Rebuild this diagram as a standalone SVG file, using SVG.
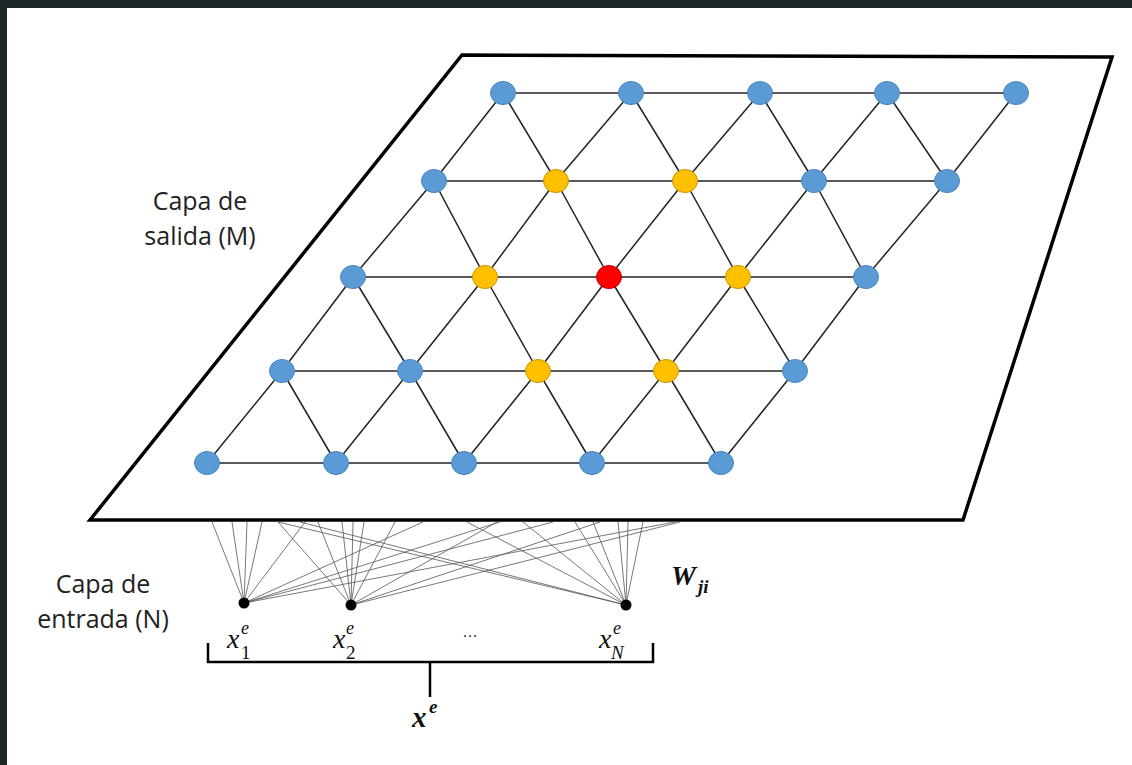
<svg xmlns="http://www.w3.org/2000/svg" width="1132" height="765" viewBox="0 0 1132 765">
<style>
.plane{fill:#fff;stroke:#000;stroke-width:3.5;stroke-linejoin:miter}
.grid line{stroke:#222;stroke-width:1.5}
.wire line{stroke:#555;stroke-width:0.8}
.blue{fill:#5b9bd5;stroke:#4a86bf;stroke-width:1}
.yel{fill:#ffc000;stroke:#c89600;stroke-width:1}
.red{fill:#ff0000;stroke:#c00000;stroke-width:1}
.in{fill:#000}
.lbl{font-family:"Open Sans","Liberation Sans",sans-serif;font-size:25px;fill:#222;text-anchor:middle}
.m{font-family:"Liberation Serif",serif;font-style:italic;fill:#111}
.up{font-family:"Liberation Serif",serif;font-style:normal;fill:#111}
.brace{fill:none;stroke:#000;stroke-width:2.5}
</style>
<rect x="0" y="0" width="1132" height="765" fill="#fff"/>
<rect x="0" y="0" width="1132" height="8" fill="#1f2629"/>
<rect x="0" y="0" width="7" height="765" fill="#1f2629"/>
<polygon class="plane" points="462,55 1112,57 963,520 90,520"/>
<g id="connectors">
<g class="grid">
<line x1="503" y1="93" x2="1016" y2="93"/>
<line x1="434" y1="181" x2="947" y2="181"/>
<line x1="353" y1="277" x2="866" y2="277"/>
<line x1="282" y1="371" x2="795" y2="371"/>
<line x1="207" y1="463" x2="721" y2="463"/>
<line x1="434" y1="181" x2="503" y2="93"/>
<line x1="556" y1="181" x2="503" y2="93"/><line x1="556" y1="181" x2="631" y2="93"/>
<line x1="685" y1="181" x2="631" y2="93"/><line x1="685" y1="181" x2="760" y2="93"/>
<line x1="814" y1="181" x2="760" y2="93"/><line x1="814" y1="181" x2="887" y2="93"/>
<line x1="947" y1="181" x2="887" y2="93"/><line x1="947" y1="181" x2="1016" y2="93"/>
<line x1="353" y1="277" x2="434" y2="181"/>
<line x1="485" y1="277" x2="434" y2="181"/><line x1="485" y1="277" x2="556" y2="181"/>
<line x1="609" y1="277" x2="556" y2="181"/><line x1="609" y1="277" x2="685" y2="181"/>
<line x1="738" y1="277" x2="685" y2="181"/><line x1="738" y1="277" x2="814" y2="181"/>
<line x1="866" y1="277" x2="814" y2="181"/><line x1="866" y1="277" x2="947" y2="181"/>
<line x1="282" y1="371" x2="353" y2="277"/>
<line x1="410" y1="371" x2="353" y2="277"/><line x1="410" y1="371" x2="485" y2="277"/>
<line x1="538" y1="371" x2="485" y2="277"/><line x1="538" y1="371" x2="609" y2="277"/>
<line x1="666" y1="371" x2="609" y2="277"/><line x1="666" y1="371" x2="738" y2="277"/>
<line x1="795" y1="371" x2="738" y2="277"/><line x1="795" y1="371" x2="866" y2="277"/>
<line x1="207" y1="463" x2="282" y2="371"/>
<line x1="336" y1="463" x2="282" y2="371"/><line x1="336" y1="463" x2="410" y2="371"/>
<line x1="464" y1="463" x2="410" y2="371"/><line x1="464" y1="463" x2="538" y2="371"/>
<line x1="592" y1="463" x2="538" y2="371"/><line x1="592" y1="463" x2="666" y2="371"/>
<line x1="721" y1="463" x2="666" y2="371"/><line x1="721" y1="463" x2="795" y2="371"/>
</g>
<g class="wire">
<line x1="244" y1="603" x2="212" y2="522"/>
<line x1="244" y1="603" x2="232" y2="522"/>
<line x1="244" y1="603" x2="247" y2="522"/>
<line x1="244" y1="603" x2="262" y2="522"/>
<line x1="244" y1="603" x2="305" y2="522"/>
<line x1="244" y1="603" x2="423" y2="522"/>
<line x1="244" y1="603" x2="500" y2="522"/>
<line x1="244" y1="603" x2="553" y2="522"/>
<line x1="244" y1="603" x2="675" y2="522"/>
<line x1="351" y1="605" x2="278" y2="522"/>
<line x1="351" y1="605" x2="318" y2="522"/>
<line x1="351" y1="605" x2="342" y2="522"/>
<line x1="351" y1="605" x2="353" y2="522"/>
<line x1="351" y1="605" x2="364" y2="522"/>
<line x1="351" y1="605" x2="395" y2="522"/>
<line x1="351" y1="605" x2="497" y2="522"/>
<line x1="351" y1="605" x2="600" y2="522"/>
<line x1="351" y1="605" x2="680" y2="522"/>
<line x1="626" y1="605" x2="278" y2="522"/>
<line x1="626" y1="605" x2="300" y2="522"/>
<line x1="626" y1="605" x2="467" y2="522"/>
<line x1="626" y1="605" x2="523" y2="522"/>
<line x1="626" y1="605" x2="575" y2="522"/>
<line x1="626" y1="605" x2="593" y2="522"/>
<line x1="626" y1="605" x2="618" y2="522"/>
<line x1="626" y1="605" x2="628" y2="522"/>
<line x1="626" y1="605" x2="643" y2="522"/>
</g>
</g>
<g id="out-r1">
<ellipse id="n-1-1" class="blue" cx="503" cy="93" rx="12.5" ry="11.5"/>
<ellipse id="n-1-2" class="blue" cx="631" cy="93" rx="12.5" ry="11.5"/>
<ellipse id="n-1-3" class="blue" cx="760" cy="93" rx="12.5" ry="11.5"/>
<ellipse id="n-1-4" class="blue" cx="887" cy="93" rx="12.5" ry="11.5"/>
<ellipse id="n-1-5" class="blue" cx="1016" cy="93" rx="12.5" ry="11.5"/>
</g>
<g id="out-r2">
<ellipse id="n-2-1" class="blue" cx="434" cy="181" rx="12.5" ry="11.5"/>
<ellipse id="n-2-2" class="yel" cx="556" cy="181" rx="12.5" ry="11.5"/>
<ellipse id="n-2-3" class="yel" cx="685" cy="181" rx="12.5" ry="11.5"/>
<ellipse id="n-2-4" class="blue" cx="814" cy="181" rx="12.5" ry="11.5"/>
<ellipse id="n-2-5" class="blue" cx="947" cy="181" rx="12.5" ry="11.5"/>
</g>
<g id="out-r3">
<ellipse id="n-3-1" class="blue" cx="353" cy="277" rx="12.5" ry="11.5"/>
<ellipse id="n-3-2" class="yel" cx="485" cy="277" rx="12.5" ry="11.5"/>
<ellipse id="n-3-3" class="red" cx="609" cy="277" rx="12.5" ry="11.5"/>
<ellipse id="n-3-4" class="yel" cx="738" cy="277" rx="12.5" ry="11.5"/>
<ellipse id="n-3-5" class="blue" cx="866" cy="277" rx="12.5" ry="11.5"/>
</g>
<g id="out-r4">
<ellipse id="n-4-1" class="blue" cx="282" cy="371" rx="12.5" ry="11.5"/>
<ellipse id="n-4-2" class="blue" cx="410" cy="371" rx="12.5" ry="11.5"/>
<ellipse id="n-4-3" class="yel" cx="538" cy="371" rx="12.5" ry="11.5"/>
<ellipse id="n-4-4" class="yel" cx="666" cy="371" rx="12.5" ry="11.5"/>
<ellipse id="n-4-5" class="blue" cx="795" cy="371" rx="12.5" ry="11.5"/>
</g>
<g id="out-r5">
<ellipse id="n-5-1" class="blue" cx="207" cy="463" rx="12.5" ry="11.5"/>
<ellipse id="n-5-2" class="blue" cx="336" cy="463" rx="12.5" ry="11.5"/>
<ellipse id="n-5-3" class="blue" cx="464" cy="463" rx="12.5" ry="11.5"/>
<ellipse id="n-5-4" class="blue" cx="592" cy="463" rx="12.5" ry="11.5"/>
<ellipse id="n-5-5" class="blue" cx="721" cy="463" rx="12.5" ry="11.5"/>
</g>
<g id="in-1"><circle class="in" cx="244" cy="603" r="5.5"/>
<text class="m" x="227" y="648" font-size="28">x</text><text class="m" x="241" y="634" font-size="18">e</text><text class="up" x="241" y="659" font-size="19">1</text></g>
<g id="in-2"><circle class="in" cx="351" cy="605" r="5.5"/>
<text class="m" x="333" y="648" font-size="28">x</text><text class="m" x="346" y="634" font-size="18">e</text><text class="up" x="346" y="659" font-size="19">2</text></g>
<g id="in-n"><circle class="in" cx="626" cy="605" r="5.5"/>
<text class="m" x="599" y="648" font-size="28">x</text><text class="m" x="613" y="634" font-size="18">e</text><text class="m" x="611" y="659" font-size="19">N</text></g>
<text x="470" y="637" font-family="Liberation Sans,sans-serif" font-size="16" fill="#222" text-anchor="middle">…</text>
<g id="labels">
<text class="lbl" x="200" y="210">Capa de</text>
<text class="lbl" x="200" y="245">salida (M)</text>
<text class="lbl" x="103" y="593">Capa de</text>
<text class="lbl" x="103" y="628">entrada (N)</text>
<text class="m" x="671" y="585" font-size="28" font-weight="bold">W</text>
<text class="m" x="698" y="593" font-size="19" font-weight="bold">ji</text>
</g>
<g id="input-vector">
<path class="brace" d="M208,643 V662 H653 V643 M430,662 V697"/>
<text class="m" x="412" y="727" font-size="29" font-weight="bold">x</text>
<text class="m" x="429" y="713" font-size="19" font-weight="bold">e</text>
</g>
</svg>
